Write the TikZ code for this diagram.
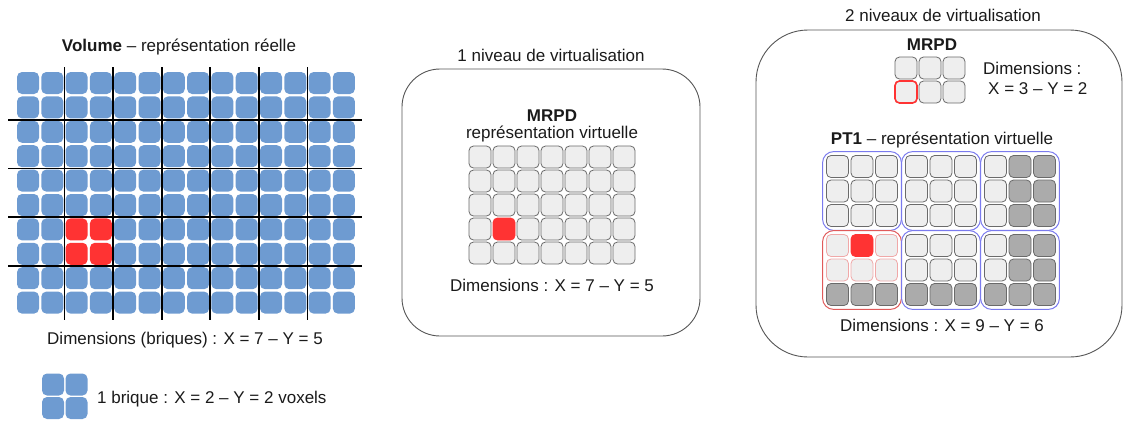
\documentclass[tikz,border=0pt]{standalone}
\usepackage{fontspec}
\setmainfont{Liberation Sans}
\usetikzlibrary{positioning, fit}
\definecolor{voxblue}{HTML}{6E9BD1}
\definecolor{hotred}{HTML}{FF3333}
\definecolor{cellfill}{HTML}{EEEEEE}
\definecolor{padfill}{HTML}{ABABAB}
\definecolor{celledge}{HTML}{6A6A6A}
\definecolor{groupblue}{HTML}{7A7AEE}
\definecolor{groupred}{HTML}{E05A5A}
\definecolor{pinkedge}{HTML}{F0A8A8}
\definecolor{panelgray}{HTML}{555555}
\definecolor{textmain}{HTML}{1A1A1A}

\begin{document}
\begin{tikzpicture}[x=1pt, y=-1pt,
    lbl/.style={font=\fontsize{17}{20}\selectfont, text=textmain, inner sep=0pt, anchor=base},
    boldlbl/.style={lbl, font=\fontsize{17}{20}\selectfont\bfseries},
    voxel/.style={rectangle, fill=voxblue, rounded corners=5, minimum size=22, inner sep=0pt},
    vcell/.style={rectangle, draw=celledge, fill=cellfill, rounded corners=4.5,
                  minimum size=22, inner sep=0pt, line width=0.8},
    padcell/.style={vcell, fill=padfill},
    pinkcell/.style={vcell, draw=pinkedge},
    hotcell/.style={vcell, draw=hotred, fill=hotred},
    brickline/.style={line width=1.8, black},
    panel/.style={rectangle, draw=panelgray, line width=0.9, inner sep=0pt},
    ptgroup/.style={rectangle, draw=groupblue, rounded corners=11, inner sep=3.5, line width=1},
    redgroup/.style={ptgroup, draw=groupred}
  ]
  \useasboundingbox (0,0) rectangle (1124,424);

  % panels
  \node[panel, minimum width=298, minimum height=267, rounded corners=38] (mid) at (551,202.5) {};
  \node[panel, minimum width=366, minimum height=327, rounded corners=52] (right) at (939,193.5) {};

  % volume, real representation
  \node[lbl] (voltitle) at (179,51) {\textbf{Volume} – représentation réelle};
  \foreach \vc in {0,...,13}
    \foreach \vr in {0,...,9}{
      \pgfmathtruncatemacro\hot{(\vc==2 || \vc==3) && (\vr==6 || \vr==7)}
      \ifnum\hot=1 \def\vfill{hotred}\else\def\vfill{voxblue}\fi
      \node[voxel, fill=\vfill] (v-\vc-\vr) at ({28+24.3*\vc},{83+24.4*\vr}) {};
    }
  \foreach \k in {1,...,6}
    \draw[brickline] ({15.85+48.6*\k},67) -- ({15.85+48.6*\k},320);
  \foreach \k in {1,...,4}
    \draw[brickline] (8,{70.8+48.8*\k}) -- (362,{70.8+48.8*\k});
  \node[lbl] (voldim) at (185,344) {Dimensions (briques) : X = 7 – Y = 5};

  % legend
  \foreach \vc in {0,1}
    \foreach \vr in {0,1}
      \node[voxel] (b-\vc-\vr) at ({53+23.5*\vc},{384.5+23.5*\vr}) {};
  \node[lbl, anchor=base west] (brick) at (97,403) {1 brique : X = 2 – Y = 2 voxels};

  % one level
  \node[lbl] (midtitle) at (551,61) {1 niveau de virtualisation};
  \node[boldlbl] (midmrpd) at (552,121) {MRPD};
  \node[lbl] (midsub) at (552,138) {représentation virtuelle};
  \foreach \cx in {0,...,6}
    \foreach \ry in {0,...,4}{
      \def\sty{vcell}
      \ifnum\cx=1 \ifnum\ry=3 \def\sty{hotcell}\fi\fi
      \node[\sty] (m-\cx-\ry) at ({480+24*\cx},{157+24*\ry}) {};
    }
  \node[lbl] (middim) at (552,291) {Dimensions : X = 7 – Y = 5};

  % two levels
  \node[lbl] (rtitle) at (943,21) {2 niveaux de virtualisation};
  \node[boldlbl] (rmrpd) at (932,50) {MRPD};
  \foreach \cx in {0,1,2}
    \foreach \ry in {0,1}
      \node[vcell] (r-\cx-\ry) at ({906+24*\cx},{68+24*\ry}) {};
  \node[vcell, draw=hotred, line width=1.6] (rsel) at (r-0-1) {};
  \node[lbl, anchor=base west] (rdim1) at (983,74) {Dimensions :};
  \node[lbl, anchor=base west] (rdim2) at (988,94) {X = 3 – Y = 2};

  \node[lbl] (pttitle) at (942,144) {\textbf{PT1} – représentation virtuelle};
  \foreach \a in {0,1,2}
    \foreach \b in {0,1}{
      \foreach \i in {0,1,2}
        \foreach \j in {0,1,2}{
          \pgfmathtruncatemacro\cx{3*\a+\i}
          \pgfmathtruncatemacro\ry{3*\b+\j}
          \def\sty{vcell}
          \ifnum\a=0 \ifnum\b=1 \def\sty{pinkcell}\fi\fi
          \ifnum\cx>6 \def\sty{padcell}\fi
          \ifnum\ry>4 \def\sty{padcell}\fi
          \ifnum\cx=1 \ifnum\ry=3 \def\sty{hotcell}\fi\fi
          \node[\sty] (p-\cx-\ry) at ({837.5+79*\a+24.5*\i},{166.5+79*\b+24.5*\j}) {};
        }
      \pgfmathtruncatemacro\cl{3*\a}
      \pgfmathtruncatemacro\ch{3*\a+2}
      \pgfmathtruncatemacro\rl{3*\b}
      \pgfmathtruncatemacro\rh{3*\b+2}
      \def\gsty{ptgroup}
      \ifnum\a=0 \ifnum\b=1 \def\gsty{redgroup}\fi\fi
      \node[\gsty, fit=(p-\cl-\rl)(p-\ch-\rh)] (g-\a-\b) {};
    }
  \node[lbl] (ptdim) at (942,331) {Dimensions : X = 9 – Y = 6};
\end{tikzpicture}
\end{document}
